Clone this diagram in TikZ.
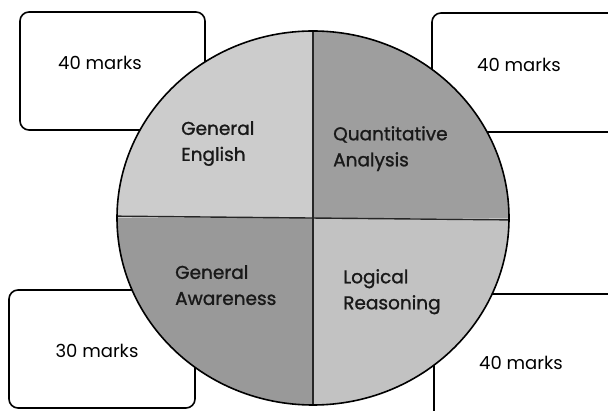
\documentclass[tikz,border=0pt]{standalone}
\usepackage{fontspec}
\setmainfont{Poppins}
\newfontfamily\qfont[FakeBold=1.2]{Poppins}
\begin{document}
\begin{tikzpicture}[x=1pt,y=-1pt,
  markbox/.style={draw=black,line width=1.6pt,rounded corners=9pt,fill=white},
  marktext/.style={font=\fontsize{18}{20}\selectfont,text=black},
  qlabel/.style={font=\qfont\fontsize{18.5}{26}\selectfont,text=black!90,align=left,anchor=north west,inner sep=0pt},
  divider/.style={draw=black!85,line width=1.4pt}]
\useasboundingbox (0,0) rectangle (608,411);
\clip (0,0) rectangle (608,411);
% mark boxes (behind the circle)
\draw[markbox] (20,12) rectangle (205,130);
\draw[markbox] (432,13) rectangle (625,132);
\draw[markbox] (9,290) rectangle (195,408);
\draw[markbox] (434,294) rectangle (625,430);
\node[marktext] (tl) at (100,63) {40 marks};
\node[marktext] (tr) at (519,65) {40 marks};
\node[marktext] (bl) at (97,351) {30 marks};
\node[marktext] (br) at (521,363) {40 marks};
% circle quadrants
\coordinate (c) at (313,218);
\begin{scope}
  \clip (c) ellipse [x radius=196, y radius=187];
  \fill[black!20] (c) rectangle (100,20);
  \fill[black!38] (c) rectangle (520,20);
  \fill[black!40] (c) rectangle (100,420);
  \fill[black!24] (c) rectangle (520,420);
  \draw[divider] (313,20) -- (313,420);
  \draw[divider] (100,216) -- (520,220);
\end{scope}
\draw[black,line width=1.6pt] (c) ellipse [x radius=196, y radius=187];
% labels
\node[qlabel] (ge) at (181,121) {General\\English};
\node[qlabel] (qa) at (333,126) {Quantitative\\Analysis};
\node[qlabel] (ga) at (175,265) {General\\Awareness};
\node[qlabel] (lr) at (343,269) {Logical\\Reasoning};
\end{tikzpicture}
\end{document}
